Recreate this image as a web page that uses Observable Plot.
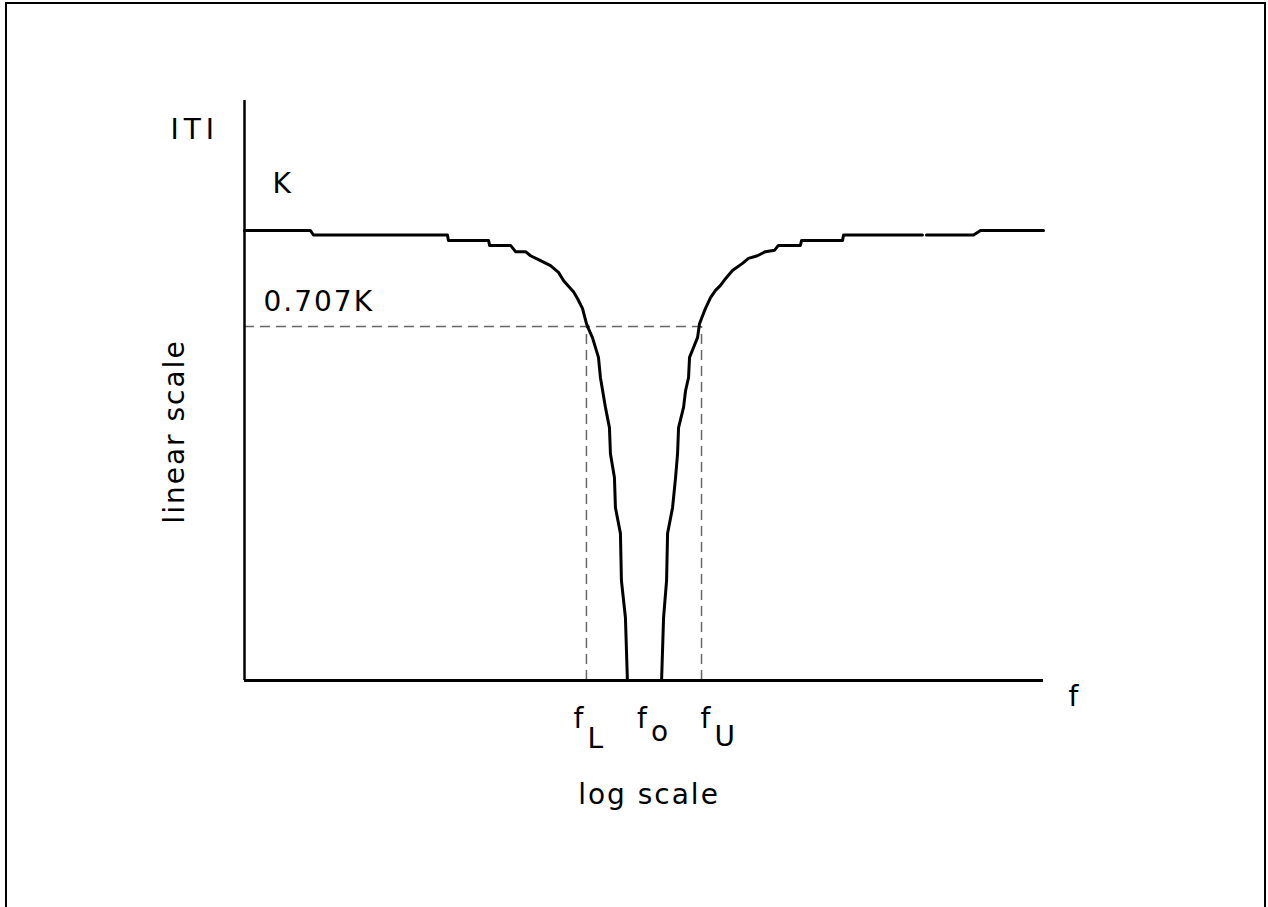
<!DOCTYPE html>
<html><head><meta charset="utf-8">
<script src="https://cdn.jsdelivr.net/npm/d3@7"></script>
<script src="https://cdn.jsdelivr.net/npm/@observablehq/plot@0.6"></script>
<style>
html,body{margin:0;padding:0;background:#fff;overflow:hidden;width:1268px;height:907px}
#chart{position:absolute;left:0;top:0}
#frame{position:absolute;left:5px;top:2px;width:1257px;height:940px;border:2px solid #000;pointer-events:none}
#chart svg text{letter-spacing:2px}
</style></head><body>
<div id="chart"></div><div id="frame"></div>
<script>
// log10(f) positions (f0 = 1, axis spans 0.01..100)
const curveLogF = [
  -2.000, -1.670, -1.655, -0.984, -0.979, -0.778, -0.773, -0.668, -0.643, -0.593,
  -0.568, -0.518, -0.468, -0.428, -0.403, -0.378, -0.353, -0.333, -0.308, -0.288,
  -0.278, -0.258, -0.228, -0.218, -0.193, -0.173, -0.168, -0.148, -0.143, -0.118,
  -0.113, -0.093, -0.083,
  0.088, 0.098, 0.113, 0.118, 0.143, 0.158, 0.168, 0.173, 0.198, 0.208,
  0.223, 0.228, 0.248, 0.268, 0.278, 0.298, 0.308, 0.333, 0.358, 0.383,
  0.408, 0.443, 0.493, 0.523, 0.568, 0.608, 0.653, 0.673, 0.783, 0.789,
  0.994, 0.999, 1.394, null, 1.414, 1.650, 1.685, 2.000
];
// |T| / K
const curveMag = [
  1.000, 1.000, 0.990, 0.990, 0.978, 0.978, 0.967, 0.967, 0.953, 0.953,
  0.944, 0.933, 0.922, 0.907, 0.889, 0.876, 0.864, 0.849, 0.827, 0.793,
  0.782, 0.762, 0.718, 0.673, 0.607, 0.562, 0.504, 0.451, 0.384, 0.327,
  0.222, 0.140, 0.000,
  0.000, 0.140, 0.222, 0.327, 0.384, 0.451, 0.504, 0.562, 0.607, 0.644,
  0.673, 0.718, 0.740, 0.762, 0.793, 0.816, 0.827, 0.851, 0.867, 0.878,
  0.893, 0.911, 0.927, 0.938, 0.944, 0.953, 0.956, 0.967, 0.967, 0.978,
  0.978, 0.990, 0.990, null, 0.990, 0.990, 1.000, 1.000
];
const xDomain = [0.01, 100];
const yTop = 1.289;
const halfPower = 0.787;
const fL = 0.515, f0 = 1, fU = 1.941;
const tickFreqs = [fL, f0, fU];
const tickMain = ["f", "f", "f"];
const tickSubs = ["L", "o", "U"];
const tickDx = [-13, -7, -1];
const tickSubDy = [67, 60, 65];
const labelMag = "ITI";
const labelK = "K";
const labelHalf = "0.707K";
const labelYScale = "linear scale";
const labelXScale = "log scale";
const labelF = "f";

const curve = curveLogF.map((u, i) => ({
  f: u == null ? null : Math.pow(10, u),
  mag: curveMag[i]
}));

const font = "DejaVu Sans";
const fs = 28;
const dash = {stroke: "#666", strokeWidth: 1.5, strokeDasharray: "10,6"};

const tickMarks = [];
tickFreqs.forEach((f, i) => {
  tickMarks.push(Plot.text([f], {x: d => d, text: () => tickMain[i], frameAnchor: "bottom",
    dx: tickDx[i], dy: 47, textAnchor: "start", lineAnchor: "bottom", fontSize: fs, fontFamily: font, fill: "black"}));
  tickMarks.push(Plot.text([f], {x: d => d, text: () => tickSubs[i], frameAnchor: "bottom",
    dx: tickDx[i] + 14, dy: tickSubDy[i], textAnchor: "start", lineAnchor: "bottom", fontSize: fs, fontFamily: font, fill: "black"}));
});

const plot = Plot.plot({
  width: 1268, height: 907,
  marginLeft: 244, marginRight: 225, marginTop: 100, marginBottom: 227,
  x: {type: "log", domain: xDomain, axis: null},
  y: {domain: [0, yTop], axis: null},
  style: {background: "white", color: "black", fontFamily: font},
  marks: [
    Plot.ruleY([halfPower], {x1: xDomain[0], x2: fU, ...dash}),
    Plot.ruleX([fL, fU], {y1: 0, y2: halfPower, ...dash}),
    Plot.ruleX([xDomain[0]], {y1: 0, y2: yTop, stroke: "black", strokeWidth: 2.5}),
    Plot.ruleY([0], {x1: xDomain[0], x2: xDomain[1], stroke: "black", strokeWidth: 3}),
    Plot.line(curve, {x: "f", y: "mag", stroke: "black", strokeWidth: 3}),
    Plot.text([labelMag], {text: d => d, frameAnchor: "top-left", dx: -74, dy: 38,
      textAnchor: "start", lineAnchor: "bottom", fontSize: fs, fontFamily: font, fill: "black"}),
    Plot.text([labelK], {text: d => d, frameAnchor: "top-left", dx: 28, dy: 92,
      textAnchor: "start", lineAnchor: "bottom", fontSize: fs, fontFamily: font, fill: "black"}),
    Plot.text([labelHalf], {text: d => d, frameAnchor: "top-left", dx: 19, dy: 210,
      textAnchor: "start", lineAnchor: "bottom", fontSize: fs, fontFamily: font, fill: "black"}),
    Plot.text([labelYScale], {text: d => d, frameAnchor: "left", dx: -61, dy: 41, rotate: -90,
      textAnchor: "middle", lineAnchor: "bottom", fontSize: fs, fontFamily: font, fill: "black"}),
    Plot.text([labelF], {text: d => d, frameAnchor: "bottom-right", dx: 25, dy: 25,
      textAnchor: "start", lineAnchor: "bottom", fontSize: fs, fontFamily: font, fill: "black"}),
    Plot.text([labelXScale], {text: d => d, frameAnchor: "bottom", dx: 5, dy: 123,
      textAnchor: "middle", lineAnchor: "bottom", fontSize: fs, fontFamily: font, fill: "black"}),
    ...tickMarks
  ]
});
document.getElementById("chart").appendChild(plot);
d3.select(plot).selectAll("text").filter(function() { return this.textContent === labelMag; })
  .style("letter-spacing", "5px");
</script></body></html>
